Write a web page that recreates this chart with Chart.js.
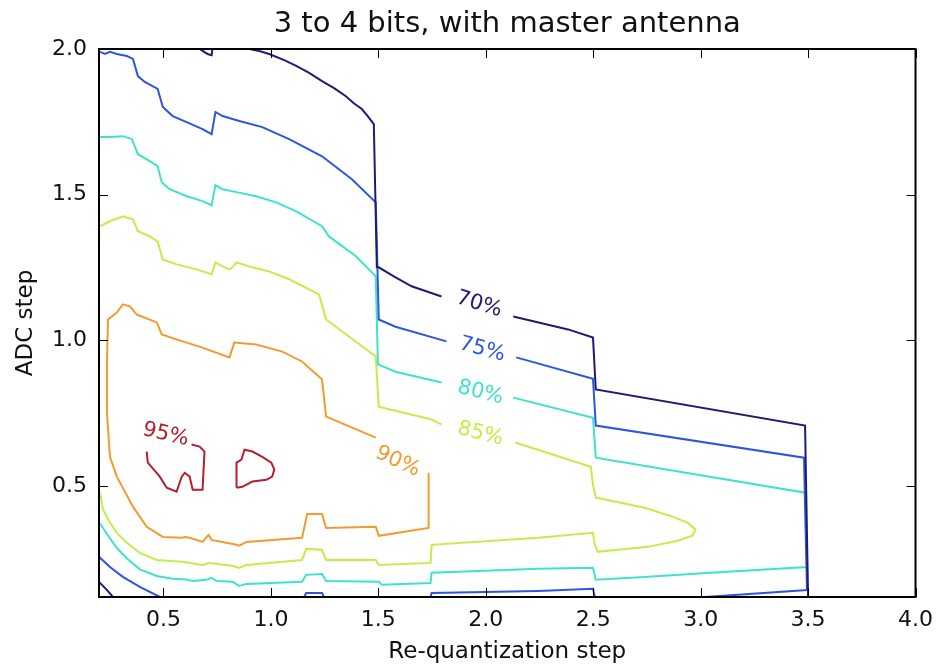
<!DOCTYPE html>
<html>
<head>
<meta charset="utf-8">
<script src="https://cdn.jsdelivr.net/npm/chart.js@4.4.0/dist/chart.umd.min.js"></script>
<style>
  html, body { margin: 0; padding: 0; background: #fff; }
</style>
</head>
<body>
<canvas id="contourChart" width="943" height="669"></canvas>
<script>
const xTicks = [0.5, 1.0, 1.5, 2.0, 2.5, 3.0, 3.5, 4.0];
const yTicks = [0.5, 1.0, 1.5, 2.0];
const levels = ["70%", "75%", "80%", "85%", "90%", "95%"];

// contour lines, null = break in the line
const c70x = [0.668, 0.705, 0.724, 0.728, null,
  0.900, 0.946, 0.992, 1.062, 1.118, 1.178, 1.238, 1.294, 1.349, 1.386, 1.423, 1.447, 1.479, 1.493, 1.502, 1.572, 1.655, 1.794, null,
  2.128, 2.383, 2.499, 2.512, 3.486, 3.500, null,
  0.200, 0.232, 0.265];
const c70y = [2.000, 1.983, 1.979, 2.000, null,
  2.000, 1.993, 1.983, 1.962, 1.942, 1.918, 1.890, 1.866, 1.838, 1.814, 1.794, 1.773, 1.742, 1.251, 1.251, 1.220, 1.186, 1.151, null,
  1.082, 1.038, 1.010, 0.832, 0.708, 0.120, null,
  0.172, 0.148, 0.120];

const c75x = [0.205, 0.228, 0.251, 0.283, 0.330, 0.358, 0.381, 0.413, 0.473, 0.497, 0.543, 0.608, 0.682, 0.724, 0.742, 0.775, 0.853, 0.960, 1.085, 1.238, 1.377, 1.488, 1.502, 1.580, 1.817, null,
  2.142, 2.499, 2.512, 3.481, 3.495, 3.022, null,
  0.200, 0.251, 0.311, 0.390, 0.483, null,
  1.155, 1.164, 1.238, 1.247, null,
  1.743, 1.748, 2.244, 2.499, 2.508];
const c75y = [1.990, 1.983, 1.990, 1.983, 1.976, 1.966, 1.907, 1.887, 1.863, 1.801, 1.770, 1.749, 1.725, 1.708, 1.784, 1.770, 1.753, 1.732, 1.691, 1.632, 1.553, 1.474, 1.072, 1.047, 0.997, null,
  0.942, 0.869, 0.708, 0.598, 0.144, 0.120, null,
  0.258, 0.223, 0.189, 0.155, 0.120, null,
  0.120, 0.134, 0.134, 0.120, null,
  0.120, 0.134, 0.141, 0.148, 0.120];

const c80x = [0.205, 0.251, 0.311, 0.353, 0.381, 0.436, 0.473, 0.492, 0.529, 0.608, 0.682, 0.724, 0.742, 0.775, 0.840, 0.932, 1.025, 1.118, 1.238, 1.270, 1.396, 1.488, 1.498, 1.580, 1.794, null,
  2.128, 2.499, 2.512, 3.486, 3.495, 3.045, 2.739, 2.512, 2.499, 2.244, 1.748, 1.743, 1.516, 1.502, 1.257, 1.238, 1.164, 1.145, 0.886, 0.853, 0.821, 0.747, 0.724, 0.700, 0.636, 0.608, 0.543, 0.469, 0.390, 0.330, 0.283, 0.237, 0.205];
const c80y = [1.698, 1.698, 1.701, 1.691, 1.639, 1.615, 1.598, 1.543, 1.519, 1.495, 1.478, 1.464, 1.533, 1.519, 1.509, 1.495, 1.474, 1.443, 1.392, 1.357, 1.289, 1.220, 0.918, 0.893, 0.856, null,
  0.804, 0.735, 0.598, 0.478, 0.223, 0.203, 0.189, 0.179, 0.220, 0.217, 0.203, 0.168, 0.162, 0.172, 0.175, 0.199, 0.196, 0.172, 0.165, 0.158, 0.172, 0.175, 0.186, 0.179, 0.175, 0.180, 0.183, 0.192, 0.215, 0.252, 0.288, 0.336, 0.372];

const c85x = [0.205, 0.251, 0.311, 0.358, 0.381, 0.436, 0.473, 0.497, 0.561, 0.654, 0.724, 0.742, 0.775, 0.807, 0.821, 0.840, 0.900, 0.992, 1.085, 1.224, 1.257, 1.488, 1.502, 1.748, 1.794, null,
  2.137, 2.489, 2.499, 2.512, 2.739, 2.855, 2.939, 2.976, 2.962, 2.893, 2.754, 2.614, 2.521, 2.508, 2.499, 2.244, 1.748, 1.743, 1.502, 1.488, 1.257, 1.238, 1.164, 1.145, 0.886, 0.853, 0.821, 0.714, 0.682, 0.622, 0.589, 0.469, 0.390, 0.330, 0.283, 0.251, 0.219, 0.205];
const c85y = [1.392, 1.409, 1.426, 1.416, 1.375, 1.357, 1.340, 1.278, 1.261, 1.244, 1.227, 1.268, 1.254, 1.244, 1.251, 1.268, 1.254, 1.237, 1.210, 1.158, 1.072, 0.945, 0.773, 0.729, 0.711, null,
  0.650, 0.567, 0.505, 0.461, 0.426, 0.399, 0.375, 0.351, 0.330, 0.313, 0.292, 0.282, 0.275, 0.299, 0.340, 0.323, 0.299, 0.237, 0.230, 0.247, 0.247, 0.282, 0.285, 0.247, 0.230, 0.220, 0.227, 0.237, 0.230, 0.237, 0.241, 0.247, 0.271, 0.306, 0.340, 0.375, 0.419, 0.478];

const c90x = [1.734, 1.734, 1.502, 1.488, 1.257, 1.238, 1.169, 1.145, 0.886, 0.853, 0.840, 0.724, 0.710, 0.682, 0.622, 0.599, 0.585, 0.497, 0.422, 0.358, 0.283, 0.251, 0.237, 0.237, 0.242, 0.283, 0.311, 0.344, 0.376, 0.469, 0.492, 0.589, 0.668, 0.807, 0.830, 0.932, 1.053, 1.145, 1.224, 1.238, 1.257, 1.488];
const c90y = [0.546, 0.357, 0.330, 0.361, 0.357, 0.405, 0.405, 0.323, 0.309, 0.296, 0.299, 0.316, 0.333, 0.309, 0.323, 0.326, 0.323, 0.326, 0.361, 0.430, 0.533, 0.601, 0.753, 0.924, 1.072, 1.096, 1.124, 1.117, 1.089, 1.062, 1.021, 0.997, 0.979, 0.942, 0.993, 0.986, 0.962, 0.928, 0.876, 0.866, 0.739, 0.667];

const c95x = [0.422, 0.427, 0.483, 0.515, 0.561, 0.585, 0.599, 0.622, 0.636, 0.682, 0.691, 0.668, 0.631, null,
  0.840, 0.840, 0.863, 0.877, 0.914, 0.960, 1.002, 1.016, 1.006, 0.979, 0.914, 0.867, 0.840];
const c95y = [0.619, 0.581, 0.533, 0.495, 0.481, 0.533, 0.546, 0.533, 0.488, 0.488, 0.619, 0.636, 0.643, null,
  0.495, 0.581, 0.591, 0.625, 0.619, 0.601, 0.581, 0.557, 0.533, 0.522, 0.516, 0.498, 0.495];

// inline label anchors (data coords) and slant in degrees
const labelX = [1.969, 1.983, 1.975, 1.975, 1.590, 0.510];
const labelY = [1.124, 0.969, 0.821, 0.680, 0.584, 0.677];
const labelAngle = [17, 15, 14, 14, 25, 13];

const lineColors = ["#1c1c74", "#2f55e0", "#3ee3cc", "#c2ee48", "#f39a30", "#b3202e"];
const contours = [[c70x, c70y], [c75x, c75y], [c80x, c80y], [c85x, c85y], [c90x, c90y], [c95x, c95y]];
const FONT = "'DejaVu Sans', sans-serif";

function toSegments(xs, ys) {
  const segs = [];
  let cur = [];
  xs.forEach((x, i) => {
    if (x === null) {
      if (cur.length) segs.push(cur);
      cur = [];
      return;
    }
    cur.push({ x: x, y: ys[i] });
  });
  if (cur.length) segs.push(cur);
  return segs;
}

const datasets = [];
contours.forEach(([xs, ys], i) => {
  toSegments(xs, ys).forEach(seg => {
    datasets.push({
      label: levels[i],
      data: seg,
      showLine: true,
      borderColor: lineColors[i],
      borderWidth: 2,
      pointRadius: 0,
      tension: 0,
      fill: false
    });
  });
});

// box + inward ticks like matplotlib, and the inline contour labels
const framePlugin = {
  id: "frame",
  afterDatasetsDraw(chart) {
    const { ctx, chartArea: a, scales: { x, y } } = chart;
    const tickLen = 9;
    ctx.save();
    ctx.strokeStyle = "#000";
    ctx.lineWidth = 1;
    ctx.beginPath();
    xTicks.forEach(v => {
      const px = Math.round(x.getPixelForValue(v)) + 0.5;
      ctx.moveTo(px, a.bottom); ctx.lineTo(px, a.bottom - tickLen);
      ctx.moveTo(px, a.top); ctx.lineTo(px, a.top + tickLen);
    });
    yTicks.forEach(v => {
      const py = Math.round(y.getPixelForValue(v)) + 0.5;
      ctx.moveTo(a.left, py); ctx.lineTo(a.left + tickLen, py);
      ctx.moveTo(a.right, py); ctx.lineTo(a.right - tickLen, py);
    });
    ctx.stroke();
    ctx.lineWidth = 2;
    ctx.strokeRect(a.left, a.top, a.width, a.height);

    ctx.font = "21px " + FONT;
    ctx.textAlign = "center";
    ctx.textBaseline = "middle";
    levels.forEach((txt, i) => {
      ctx.save();
      ctx.translate(x.getPixelForValue(labelX[i]), y.getPixelForValue(labelY[i]));
      ctx.rotate(labelAngle[i] * Math.PI / 180);
      ctx.fillStyle = lineColors[i];
      ctx.fillText(txt, 0, 0);
      ctx.restore();
    });
    ctx.restore();
  },
  afterDraw(chart) {
    const { ctx, chartArea: a } = chart;
    ctx.save();
    ctx.font = "29px " + FONT;
    ctx.fillStyle = "#111";
    ctx.textAlign = "center";
    ctx.textBaseline = "middle";
    ctx.fillText("3 to 4 bits, with master antenna", (a.left + a.right) / 2, 24);
    ctx.restore();
  }
};

new Chart(document.getElementById("contourChart"), {
  type: "scatter",
  data: { datasets: datasets },
  options: {
    responsive: false,
    animation: false,
    layout: { padding: { top: 49, right: 24, left: 0, bottom: 0 } },
    plugins: {
      legend: { display: false },
      tooltip: { enabled: false },
      title: { display: false }
    },
    scales: {
      x: {
        type: "linear",
        min: 0.2,
        max: 4.0,
        afterFit: s => { s.height = 72; },
        afterBuildTicks: s => { s.ticks = xTicks.map(v => ({ value: v })); },
        ticks: {
          callback: v => v.toFixed(1),
          font: { family: FONT, size: 22 },
          color: "#111",
          padding: 10,
          maxRotation: 0,
          autoSkip: false
        },
        grid: { display: false, drawTicks: false },
        border: { display: false },
        title: {
          display: true,
          text: "Re-quantization step",
          color: "#111",
          font: { family: FONT, size: 23 },
          padding: { top: 0, bottom: 3 }
        }
      },
      y: {
        type: "linear",
        min: 0.12,
        max: 2.0,
        afterFit: s => { s.width = 99; },
        afterBuildTicks: s => { s.ticks = yTicks.map(v => ({ value: v })); },
        ticks: {
          callback: v => v.toFixed(1),
          font: { family: FONT, size: 22 },
          color: "#111",
          padding: 12,
          autoSkip: false
        },
        grid: { display: false, drawTicks: false },
        border: { display: false },
        title: {
          display: true,
          text: "ADC step",
          color: "#111",
          font: { family: FONT, size: 23 },
          padding: { top: 12, bottom: 0 }
        }
      }
    }
  },
  plugins: [framePlugin]
});
</script>
</body>
</html>
